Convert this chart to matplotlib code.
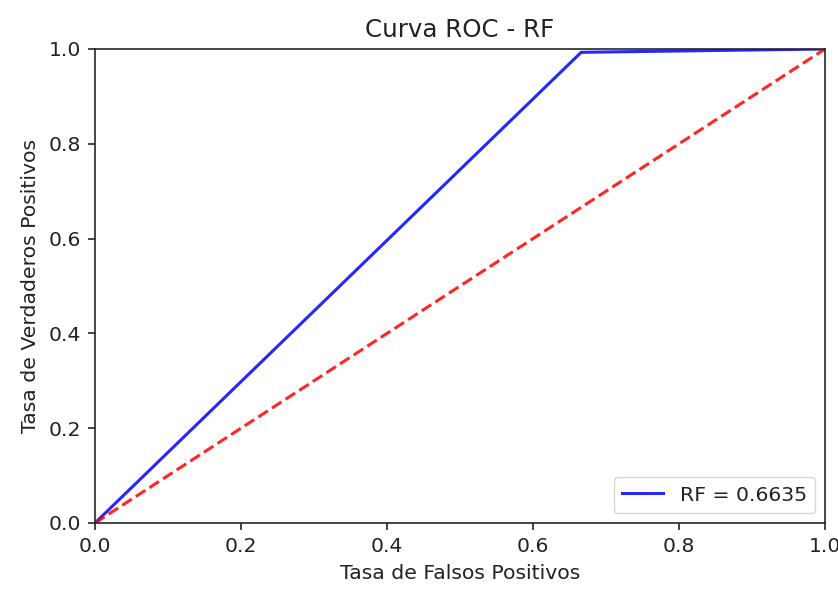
import matplotlib
matplotlib.use('Agg')
from matplotlib import pyplot as plt

fpr = [0.0, 0.666, 1.0]
tpr = [0.0, 0.993, 1.0]
auc_rf = 0.6635
diag = [0.0, 1.0]

s = 1.47
plt.rcParams['font.size'] = 10 * s

fig = plt.figure(figsize=(8.38, 5.89), dpi=100)
ax = fig.add_axes([95 / 838, 66 / 589, 730 / 838, 474 / 589])

ax.plot(fpr, tpr, 'b', lw=1.5 * s, alpha=0.85, label='RF = %0.4f' % auc_rf)
ax.plot(diag, diag, 'r--', lw=1.5 * s, alpha=0.85)
ax.set_xlim(0, 1)
ax.set_ylim(0, 1)
ax.set_title('Curva ROC - RF', pad=6 * s, color='#222222')
ax.set_xlabel('Tasa de Falsos Positivos', labelpad=4 * s, color='#222222')
ax.set_ylabel('Tasa de Verdaderos Positivos', labelpad=4 * s, color='#222222')
ax.legend(loc='lower right', labelcolor='#222222')
for sp in ax.spines.values():
    sp.set_linewidth(0.8 * s)
    sp.set_color('#222222')
ax.tick_params(width=0.8 * s, length=3.5 * s, pad=3.5 * s, colors='#222222')

fig.savefig('out.png', dpi=100)
